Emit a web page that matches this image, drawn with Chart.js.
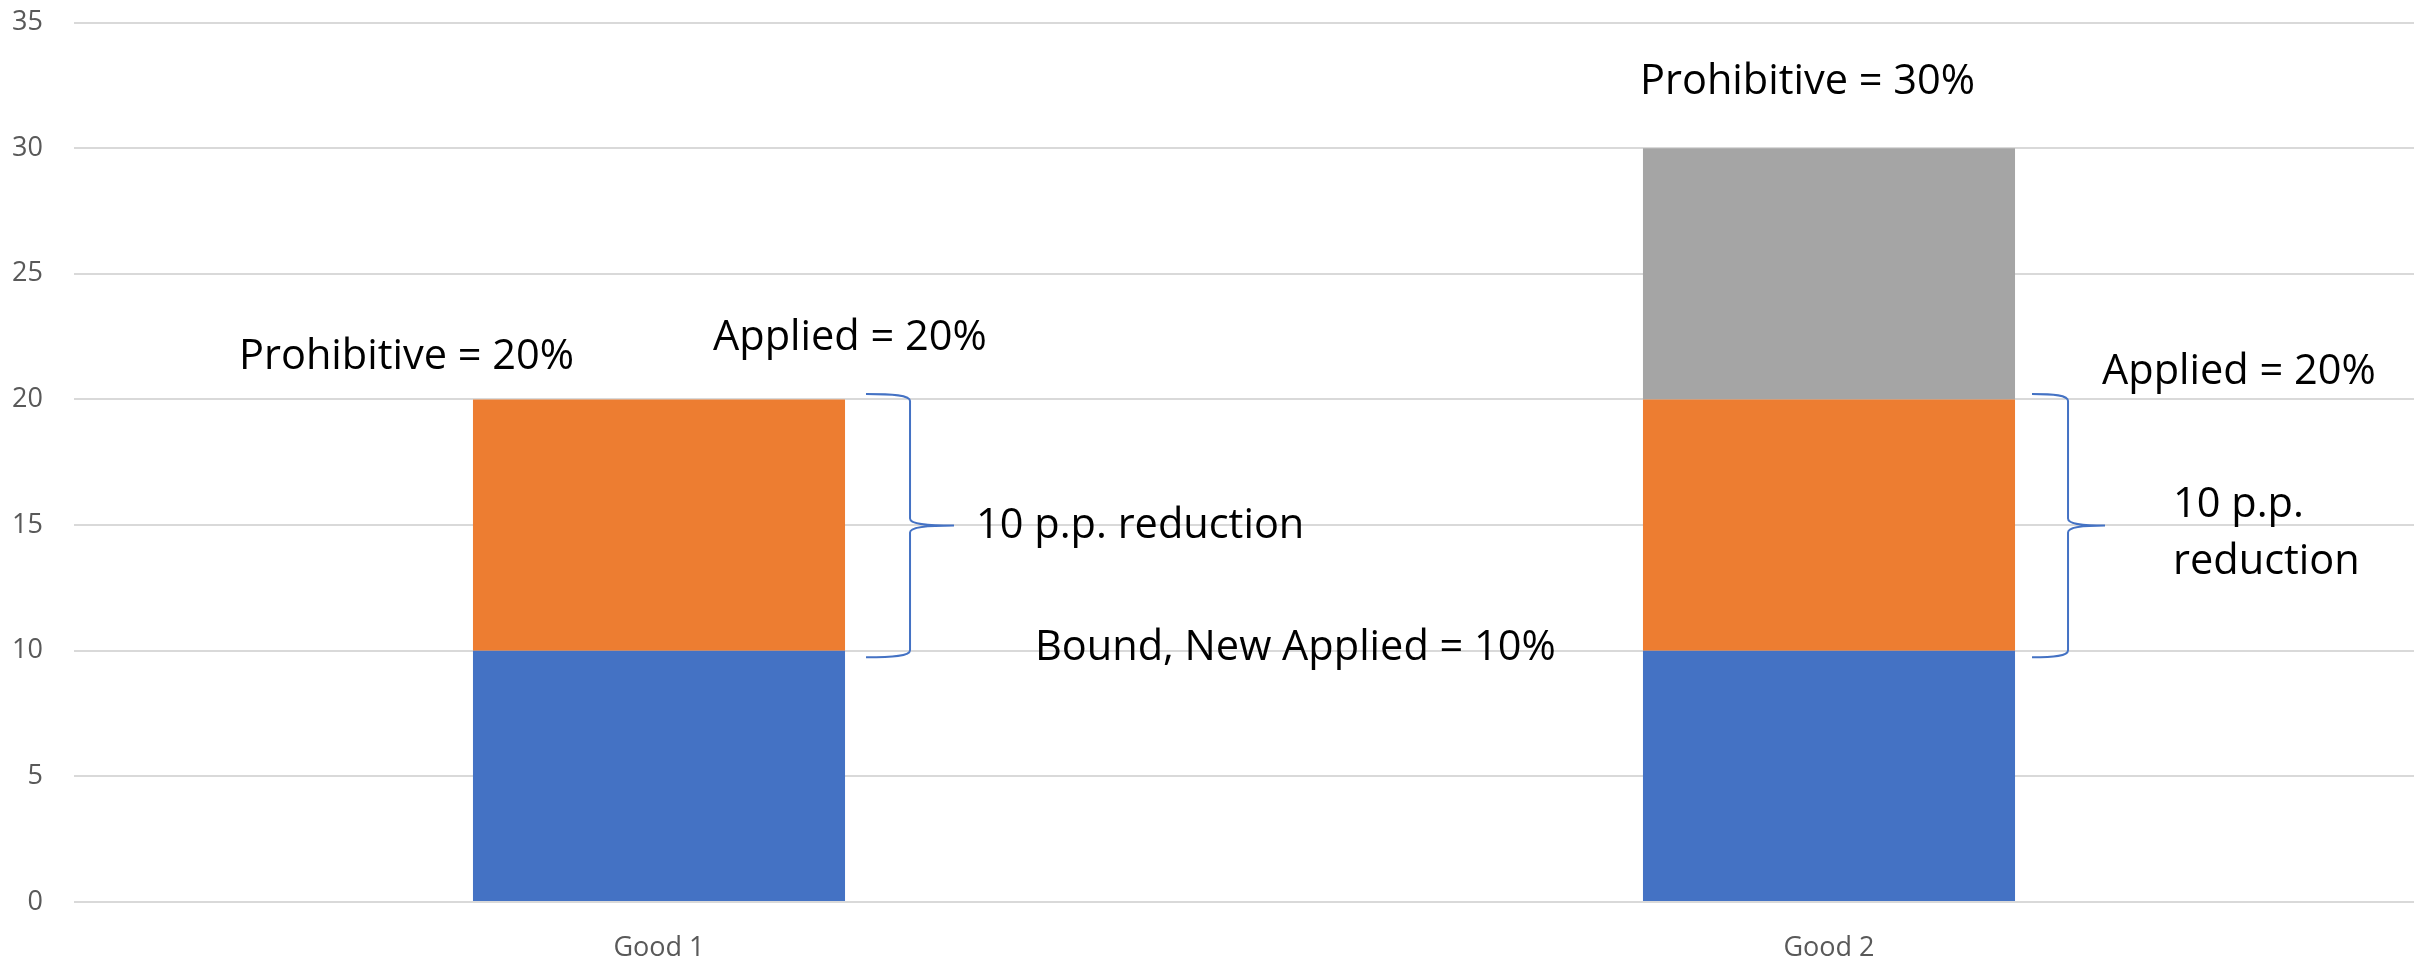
<!DOCTYPE html>
<html>
<head>
<meta charset="utf-8">
<script src="https://cdn.jsdelivr.net/npm/chart.js@4.4.1/dist/chart.umd.min.js"></script>
<style>
  html, body { margin: 0; padding: 0; background: #ffffff; }
  #wrap { width: 2414px; height: 960px; }
</style>
</head>
<body>
<div id="wrap"><canvas id="c" width="2414" height="960"></canvas></div>
<script>
// Tariff levels per good (percent)
const categories = ['Good 1', 'Good 2'];
const boundRate = [10, 10];        // bound = new applied rate
const appliedRate = [20, 20];      // applied rate before the cut
const prohibitiveRate = [20, 30];  // prohibitive rate
const yTicks = [0, 5, 10, 15, 20, 25, 30, 35];

// Stack segments built from the levels above
const boundSeg = boundRate.slice();
const appliedSeg = appliedRate.map((v, i) => v - boundRate[i]);
const prohibitiveSeg = prohibitiveRate.map((v, i) => v - appliedRate[i]);

const TICK_FONT = { family: '"Open Sans", sans-serif', size: 27 };
const NOTE_FONT = '41.5px "Open Sans", sans-serif';
const BRACE_COLOR = '#4472C4';

// Curly brace opening toward the bar, pointing right at the middle
function drawBrace(ctx, xTip, xSpine, xPoint, yTop, yBot) {
  const yMid = (yTop + yBot) / 2;
  ctx.save();
  ctx.strokeStyle = BRACE_COLOR;
  ctx.lineWidth = 2;
  ctx.beginPath();
  ctx.moveTo(xTip, yTop);
  ctx.bezierCurveTo(xTip + (xSpine - xTip) * 0.6, yTop, xSpine, yTop + 1, xSpine, yTop + 7);
  ctx.lineTo(xSpine, yMid - 7);
  ctx.bezierCurveTo(xSpine, yMid - 2, xSpine + (xPoint - xSpine) * 0.3, yMid, xPoint, yMid);
  ctx.moveTo(xPoint, yMid);
  ctx.bezierCurveTo(xSpine + (xPoint - xSpine) * 0.3, yMid, xSpine, yMid + 2, xSpine, yMid + 7);
  ctx.lineTo(xSpine, yBot - 7);
  ctx.bezierCurveTo(xSpine, yBot - 1, xTip + (xSpine - xTip) * 0.6, yBot, xTip, yBot);
  ctx.stroke();
  ctx.restore();
}

const notesPlugin = {
  id: 'tariffNotes',
  afterDatasetsDraw(chart) {
    const ctx = chart.ctx;
    const ys = chart.scales.y;
    const bars = chart.getDatasetMeta(0).data;
    const c0 = bars[0].x, r0 = bars[0].x + bars[0].width / 2;
    const c1 = bars[1].x, r1 = bars[1].x + bars[1].width / 2;

    const text = (s, x, y) => ctx.fillText(s, x, y);
    ctx.save();
    ctx.font = NOTE_FONT;
    ctx.fillStyle = '#000000';
    ctx.textAlign = 'left';
    ctx.textBaseline = 'alphabetic';

    // Good 1
    const cut0 = appliedRate[0] - boundRate[0];
    text('Prohibitive = ' + prohibitiveRate[0] + '%', c0 - 420, ys.getPixelForValue(prohibitiveRate[0]) - 30);
    text('Applied = ' + appliedRate[0] + '%', c0 + 54, ys.getPixelForValue(appliedRate[0]) - 49);
    text(cut0 + ' p.p. reduction', r0 + 131, ys.getPixelForValue((appliedRate[0] + boundRate[0]) / 2) + 12.6);
    text('Bound, New Applied = ' + boundRate[0] + '%', r0 + 190, ys.getPixelForValue(boundRate[0]) + 9.6);

    // Good 2
    const cut1 = appliedRate[1] - boundRate[1];
    text('Prohibitive = ' + prohibitiveRate[1] + '%', c1 - 189, ys.getPixelForValue(prohibitiveRate[1]) - 54);
    text('Applied = ' + appliedRate[1] + '%', r1 + 87, ys.getPixelForValue(appliedRate[1]) - 15);
    const mid1 = ys.getPixelForValue((appliedRate[1] + boundRate[1]) / 2);
    text(cut1 + ' p.p.', r1 + 158, mid1 - 8.4);
    text('reduction', r1 + 158, mid1 + 48.6);
    ctx.restore();

    // Braces spanning the reduction on each bar
    drawBrace(ctx, r0 + 21, r0 + 65, r0 + 109,
      ys.getPixelForValue(appliedRate[0]) - 5.5, ys.getPixelForValue(boundRate[0]) + 6.5);
    drawBrace(ctx, r1 + 17, r1 + 53, r1 + 90,
      ys.getPixelForValue(appliedRate[1]) - 5.5, ys.getPixelForValue(boundRate[1]) + 6.5);
  }
};

function build() {
  new Chart(document.getElementById('c'), {
    type: 'bar',
    data: {
      labels: categories,
      datasets: [
        { label: 'Bound', data: boundSeg, backgroundColor: '#4472C4' },
        { label: 'Applied', data: appliedSeg, backgroundColor: '#ED7D31' },
        { label: 'Prohibitive', data: prohibitiveSeg, backgroundColor: '#A5A5A5' }
      ]
    },
    options: {
      responsive: false,
      animation: false,
      devicePixelRatio: 1,
      layout: { padding: { top: 22.5, right: 0, bottom: 0, left: 0 } },
      datasets: { bar: { barPercentage: 0.318, categoryPercentage: 1.0, borderWidth: 0 } },
      plugins: { legend: { display: false }, tooltip: { enabled: false } },
      scales: {
        x: {
          stacked: true,
          grid: { display: false },
          border: { display: false },
          ticks: { font: TICK_FONT, color: '#595959', padding: 22 },
          afterFit(scale) { scale.height = 58; }
        },
        y: {
          stacked: true,
          min: yTicks[0],
          max: yTicks[yTicks.length - 1],
          afterBuildTicks(scale) { scale.ticks = yTicks.map(v => ({ value: v })); },
          // invisible tick marks keep the labels clear of the gridlines
          grid: { color: '#D9D9D9', lineWidth: 2, drawTicks: true, tickLength: 31, tickColor: 'rgba(0,0,0,0)' },
          border: { display: false },
          ticks: { font: TICK_FONT, color: '#595959', padding: 0 },
          afterFit(scale) { scale.width = 74; }
        }
      }
    },
    plugins: [notesPlugin]
  });
}

if (document.fonts && document.fonts.load) {
  Promise.all([
    document.fonts.load('27px "Open Sans"'),
    document.fonts.load('41.5px "Open Sans"')
  ]).then(build, build);
} else {
  build();
}
</script>
</body>
</html>
